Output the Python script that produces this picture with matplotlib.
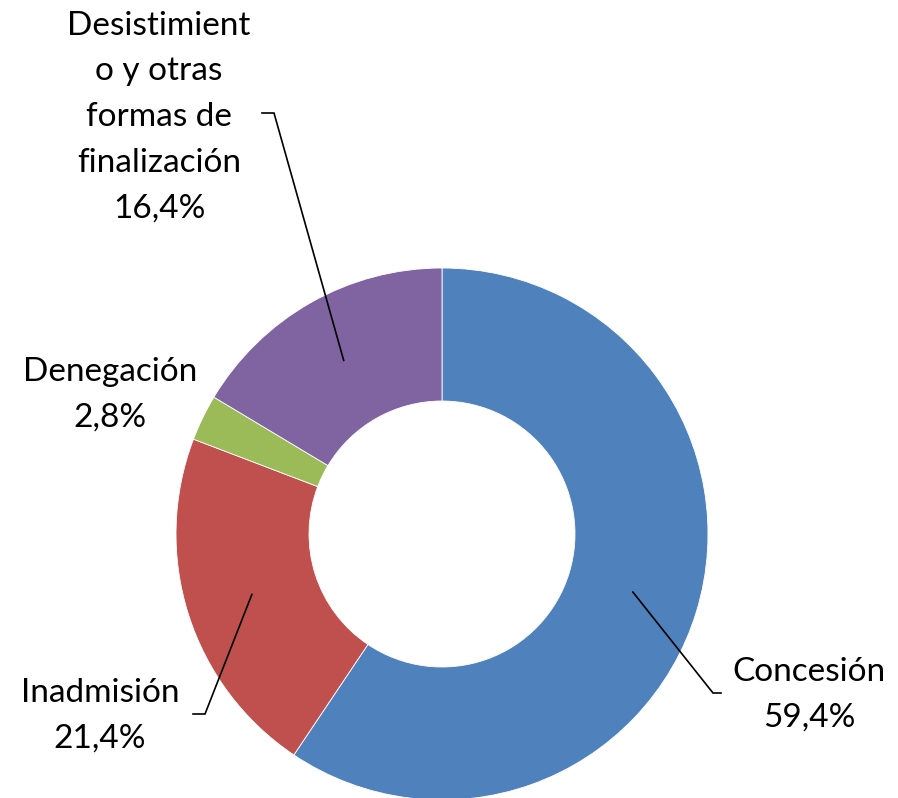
import matplotlib
matplotlib.use("Agg")
import matplotlib.pyplot as plt
import numpy as np

categories = ["Concesión", "Inadmisión", "Denegación",
              "Desistimient\no y otras\nformas de\nfinalización"]
values = [59.4, 21.4, 2.8, 16.4]
value_labels = ["59,4%", "21,4%", "2,8%", "16,4%"]
colors = ["#4F81BD", "#C0504D", "#9BBB59", "#8064A2"]

W, H = 898, 798
fig = plt.figure(figsize=(W / 100, H / 100), dpi=100)
ax = fig.add_axes([0, 0, 1, 1])

cx, cy = 442, H - 534
R = 266
ring = 133
wedges, _ = ax.pie(values, colors=colors, startangle=90, counterclock=False,
                   center=(cx, cy), radius=R, frame=True,
                   wedgeprops=dict(width=ring, edgecolor="white", linewidth=0.6))
ax.set_xlim(0, W)
ax.set_ylim(0, H)
ax.set_aspect("equal")
ax.axis("off")

font = dict(family=["Lato", "DejaVu Sans"], fontsize=24, color="black")

# label block centres (px, from top) and leader elbow points
label_pos = [(809, 695), (100, 716), (110, 395), (159, 117)]
elbows = [((713, 693), (721, 693)), ((205, 714), (193, 714)), None,
          ((274, 113), (262, 113))]

for w, cat, vl, (lx, ly), elb in zip(wedges, categories, value_labels, label_pos, elbows):
    ax.text(lx, H - ly, cat + "\n" + vl, ha="center", va="center",
            linespacing=1.65, **font)
    if elb is not None:
        ang = np.deg2rad((w.theta1 + w.theta2) / 2)
        rm = R - ring / 2
        sx, sy = cx + rm * np.cos(ang), cy + rm * np.sin(ang)
        (ex, ey), (hx, hy) = elb
        ax.plot([sx, ex, hx], [sy, H - ey, H - hy], color="black", lw=1.2,
                solid_joinstyle="miter")

fig.savefig("out.png", dpi=100)
